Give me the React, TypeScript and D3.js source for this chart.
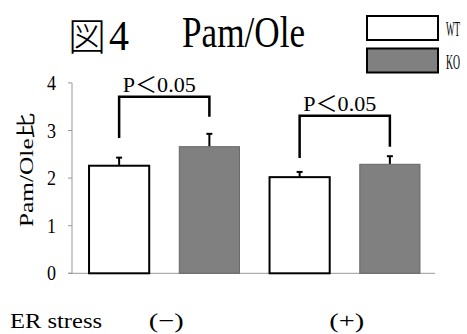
import React from 'react';
import * as d3 from 'd3';

const groups = ['(−)', '(+)'];
const genotypes = ['WT', 'KO'];
const means = [
  [2.26, 2.66],
  [2.02, 2.29],
];
const errors = [
  [0.17, 0.27],
  [0.11, 0.17],
];
const yTicks = [0, 1, 2, 3, 4];
// bracket: top level, left leg end, right leg end (data units)
const brackets = [
  { group: 0, top: 3.71, left: 2.84, right: 3.29, label: 'P＜0.05' },
  { group: 1, top: 3.31, left: 2.42, right: 2.66, label: 'P＜0.05' },
];
const colors = { WT: '#ffffff', KO: '#808080' };

const FONT = "Liberation Serif, Noto Sans CJK JP, serif";

export default function App() {
  const width = 467;
  const height = 334;
  const left = 72;
  const right = 435;
  const bottom = 273.3;

  const x0 = d3.scaleBand<string>().domain(groups).range([left + 2, right]);
  const x1 = d3
    .scaleBand<string>()
    .domain(genotypes)
    .range([0, x0.bandwidth()])
    .paddingInner(1 / 3)
    .paddingOuter(1 / 6);
  const y = d3.scaleLinear().domain([0, 4]).range([bottom, bottom - 4 * 47.6]);

  const cx = (g: number, k: number) =>
    (x0(groups[g]) as number) + (x1(genotypes[k]) as number) + x1.bandwidth() / 2;

  return (
    <svg
      width={width}
      height={height}
      style={{ position: 'absolute', left: 0, top: 0, background: '#fff' }}
    >
      <g fontFamily={FONT}>
        {/* title */}
        <text x={68} y={50} fontSize={38} fontFamily="Noto Sans CJK JP" fontWeight={300}>
          図
        </text>
        <text x={109} y={50} fontSize={42} textLength={20} lengthAdjust="spacingAndGlyphs">
          4
        </text>
        <text x={182} y={47} fontSize={44} textLength={123} lengthAdjust="spacingAndGlyphs">
          Pam/Ole
        </text>

        {/* legend */}
        {genotypes.map((gname, i) => (
          <g key={gname}>
            <rect
              x={367}
              y={16 + i * 32.5}
              width={71}
              height={24}
              fill={colors[gname as 'WT' | 'KO']}
              stroke="#000"
              strokeWidth={2}
            />
            <text
              x={446}
              y={36 + i * 33}
              fontSize={21}
              textLength={14}
              lengthAdjust="spacingAndGlyphs"
            >
              {gname}
            </text>
          </g>
        ))}

        {/* axes */}
        <line x1={left} x2={left} y1={y(4)} y2={bottom} stroke="#999" strokeWidth={1} />
        <line x1={68} x2={right} y1={bottom} y2={bottom} stroke="#999" strokeWidth={1} />
        {yTicks.map((t) => (
          <g key={t}>
            <line x1={68} x2={left} y1={y(t)} y2={y(t)} stroke="#999" strokeWidth={1} />
            <text
              x={56}
              y={y(t) + 7}
              fontSize={21}
              textAnchor="end"
              textLength={9}
              lengthAdjust="spacingAndGlyphs"
            >
              {t}
            </text>
          </g>
        ))}
        <text
          transform={`translate(33,170) rotate(-90)`}
          fontSize={19}
          textAnchor="middle"
          textLength={114}
          lengthAdjust="spacingAndGlyphs"
        >
          Pam/Ole比
        </text>

        {/* bars */}
        {means.map((row, g) =>
          row.map((v, k) => {
            const gname = genotypes[k] as 'WT' | 'KO';
            const bx = (x0(groups[g]) as number) + (x1(gname) as number);
            const c = cx(g, k);
            const top = y(v + errors[g][k]);
            return (
              <g key={`${g}-${k}`}>
                <line x1={c} x2={c} y1={y(v)} y2={top} stroke="#000" strokeWidth={2} />
                <line x1={c - 3} x2={c + 3} y1={top} y2={top} stroke="#000" strokeWidth={2} />
                <rect
                  x={bx}
                  y={y(v)}
                  width={x1.bandwidth()}
                  height={bottom - y(v)}
                  fill={colors[gname]}
                  stroke={gname === 'WT' ? '#000' : '#666'}
                  strokeWidth={gname === 'WT' ? 2 : 1}
                />
              </g>
            );
          })
        )}

        {/* significance brackets */}
        {brackets.map((b, i) => {
          const a = cx(b.group, 0);
          const c = cx(b.group, 1);
          return (
            <g key={i}>
              <path
                d={`M${a},${y(b.left)}V${y(b.top)}H${c}V${y(b.right)}`}
                fill="none"
                stroke="#000"
                strokeWidth={2.5}
              />
              <text
                x={(a + c) / 2 - 5}
                y={y(b.top) - 5}
                fontSize={22}
                textAnchor="middle"
                textLength={73}
                lengthAdjust="spacingAndGlyphs"
              >
                {b.label}
              </text>
            </g>
          );
        })}

        {/* x labels */}
        <text x={10} y={328} fontSize={22} textLength={92} lengthAdjust="spacingAndGlyphs">
          ER stress
        </text>
        {groups.map((gname) => (
          <text
            key={gname}
            x={(x0(gname) as number) + x0.bandwidth() / 2 + 2}
            y={328}
            fontSize={22}
            textAnchor="middle"
            textLength={35}
            lengthAdjust="spacingAndGlyphs"
          >
            {gname}
          </text>
        ))}
      </g>
    </svg>
  );
}
